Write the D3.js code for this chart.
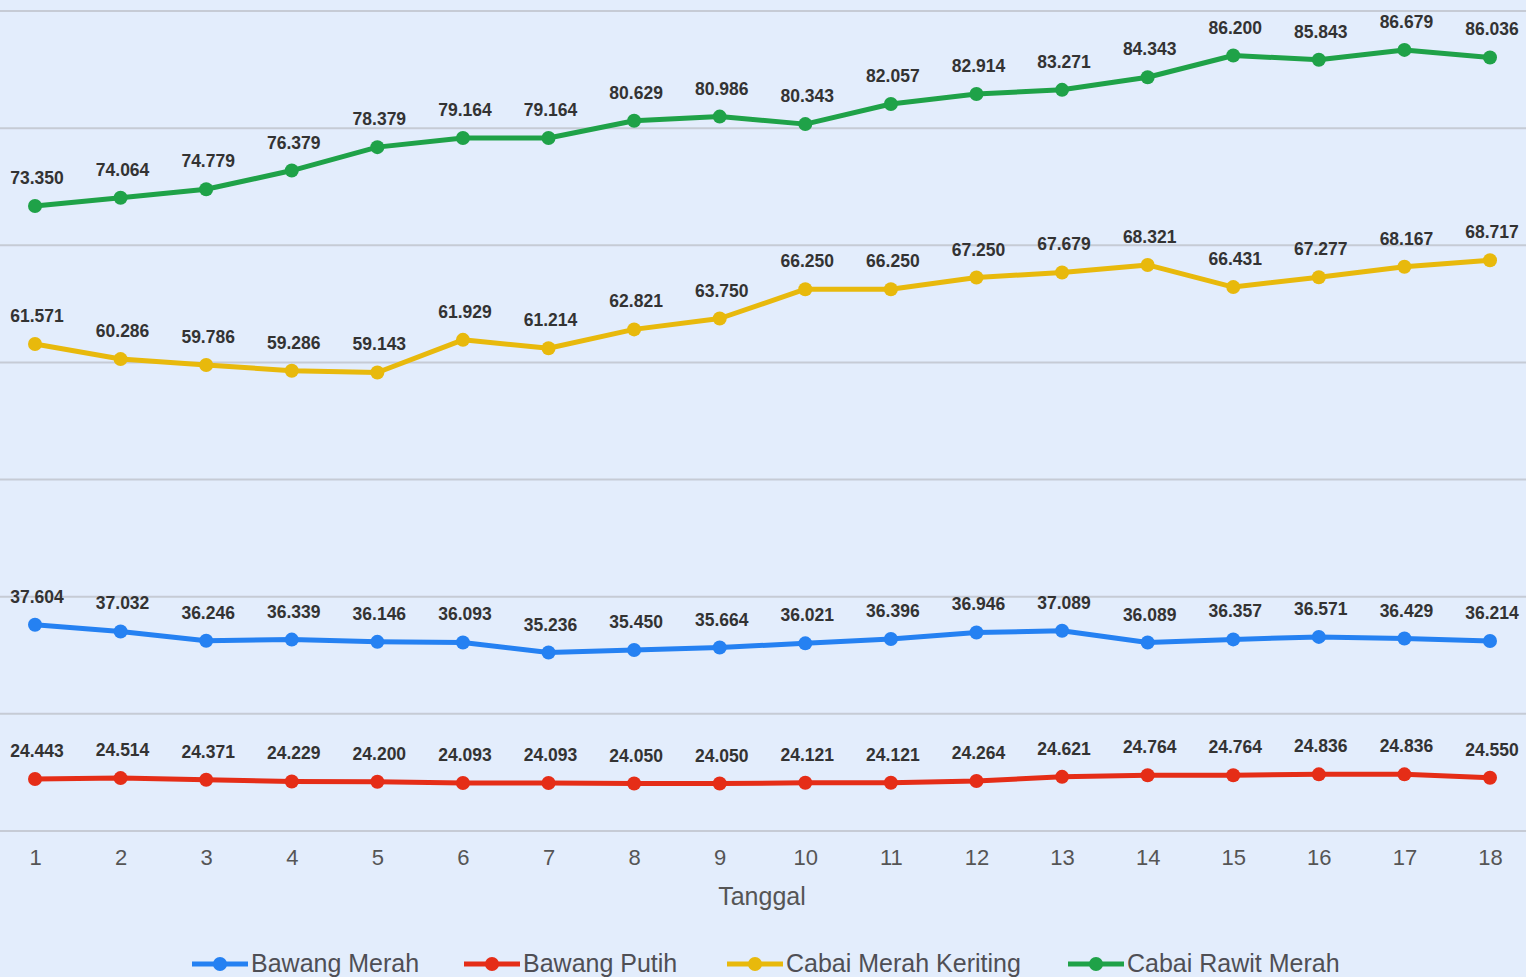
<!DOCTYPE html>
<html>
<head>
<meta charset="utf-8">
<script src="https://cdn.jsdelivr.net/npm/d3@7"></script>
<style>
  body { margin: 0; background: #e3edfc; }
  svg { display: block; font-family: "Liberation Sans", Arial, sans-serif; }
</style>
</head>
<body>
<script>
// harga per tanggal (Rp)
const tanggal = d3.range(1, 19)
const bawangMerah = [37604, 37032, 36246, 36339, 36146, 36093, 35236, 35450, 35664, 36021, 36396, 36946, 37089, 36089, 36357, 36571, 36429, 36214]
const bawangPutih = [24443, 24514, 24371, 24229, 24200, 24093, 24093, 24050, 24050, 24121, 24121, 24264, 24621, 24764, 24764, 24836, 24836, 24550]
const cabaiKeriting = [61571, 60286, 59786, 59286, 59143, 61929, 61214, 62821, 63750, 66250, 66250, 67250, 67679, 68321, 66431, 67277, 68167, 68717]
const cabaiRawit = [73350, 74064, 74779, 76379, 78379, 79164, 79164, 80629, 80986, 80343, 82057, 82914, 83271, 84343, 86200, 85843, 86679, 86036]
const gridTicks = [20000, 30000, 40000, 50000, 60000, 70000, 80000, 90000]

const series = [
  { name: "Bawang Merah", color: "#2581f2", values: bawangMerah },
  { name: "Bawang Putih", color: "#e52d17", values: bawangPutih },
  { name: "Cabai Merah Keriting", color: "#e8b90c", values: cabaiKeriting },
  { name: "Cabai Rawit Merah", color: "#1fa248", values: cabaiRawit }
]

const W = 1526, H = 977
const idFmt = d3.formatLocale({ decimal: ",", thousands: ".", grouping: [3], currency: ["Rp", ""] }).format(",d")

const svg = d3.select("body").append("svg")
  .attr("width", W)
  .attr("height", H)

svg.append("rect").attr("width", W).attr("height", H).attr("fill", "#e3edfc")

const x = d3.scaleLinear().domain([1, 18]).range([35, 1490])
const y = d3.scaleLinear().domain([20000, 90000]).range([831, 11])

// grid
svg.append("g").selectAll("line")
  .data(gridTicks)
  .enter().append("line")
    .attr("x1", 0).attr("x2", W)
    .attr("y1", d => y(d)).attr("y2", d => y(d))
    .attr("stroke", "#c6cbd5")
    .attr("stroke-width", 2)

// x axis labels
const xAxis = svg.append("g")
  .attr("transform", "translate(0,843)")
  .call(d3.axisBottom(x).tickValues(tanggal).tickSize(0).tickPadding(6).tickFormat(d3.format("d")))
xAxis.select(".domain").remove()
xAxis.selectAll("text")
  .attr("font-family", "Liberation Sans, Arial, sans-serif")
  .attr("font-size", 22)
  .attr("fill", "#555")

svg.append("text")
  .attr("x", 762).attr("y", 905)
  .attr("text-anchor", "middle")
  .attr("font-size", 25)
  .attr("fill", "#555")
  .text("Tanggal")

const line = d3.line()
  .x((d, i) => x(tanggal[i]))
  .y(d => y(d))

series.forEach(s => {
  const g = svg.append("g")
  g.append("path")
    .attr("d", line(s.values))
    .attr("fill", "none")
    .attr("stroke", s.color)
    .attr("stroke-width", 5)
    .attr("stroke-linejoin", "round")
  g.selectAll("circle")
    .data(s.values)
    .enter().append("circle")
      .attr("cx", (d, i) => x(tanggal[i]))
      .attr("cy", d => y(d))
      .attr("r", 7)
      .attr("fill", s.color)
  g.selectAll("text")
    .data(s.values)
    .enter().append("text")
      .attr("x", (d, i) => x(tanggal[i]) + 2)
      .attr("y", d => y(d) - 22)
      .attr("text-anchor", "middle")
      .attr("font-size", 17.5)
      .attr("font-weight", "bold")
      .attr("fill", "#333")
      .text(d => idFmt(d))
})

// legend
const legendX = [192, 464, 727, 1068]
const legend = svg.append("g")
series.forEach((s, i) => {
  const lg = legend.append("g").attr("transform", `translate(${legendX[i]},964)`)
  lg.append("line").attr("x1", 0).attr("x2", 56).attr("stroke", s.color).attr("stroke-width", 5)
  lg.append("circle").attr("cx", 28).attr("r", 7).attr("fill", s.color)
  lg.append("text")
    .attr("x", 59).attr("y", 8)
    .attr("font-size", 25)
    .attr("fill", "#4f4f55")
    .text(s.name)
})
</script>
</body>
</html>
